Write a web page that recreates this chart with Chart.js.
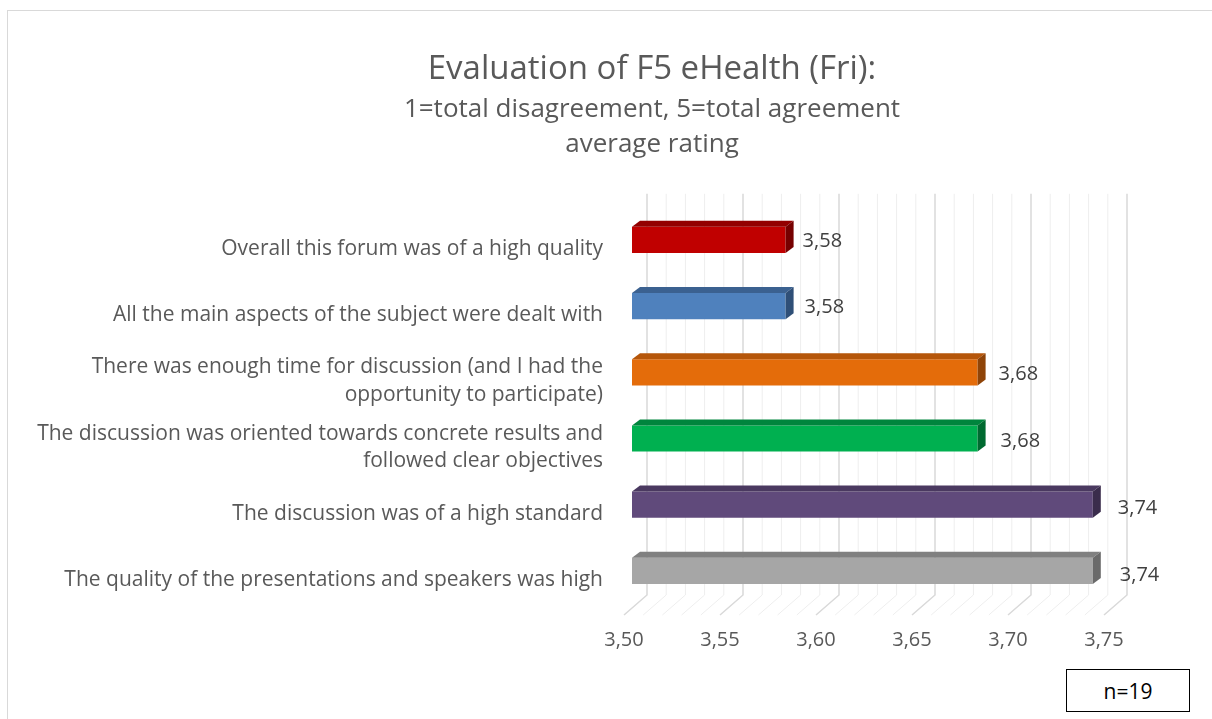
<!DOCTYPE html>
<html lang="en">
<head>
<meta charset="UTF-8" />
<title>Evaluation of F5 eHealth (Fri)</title>
<script src="https://cdn.jsdelivr.net/npm/chart.js"></script>
<style>
  html, body {
    margin: 0;
    padding: 0;
    overflow: hidden;
    background: #fff;
    width: 1212px;
    height: 719px;
  }
  #frame {
    position: absolute;
    left: 7px;
    top: 10px;
    width: 1300px;
    height: 760px;
    border-left: 1px solid #d9d9d9;
    border-top: 1px solid #d9d9d9;
  }
  #frame canvas {
    position: absolute;
    left: 0;
    top: 0;
  }
  #nbox {
    position: absolute;
    left: 1066px;
    top: 669px;
    width: 122px;
    height: 41px;
    border: 1.5px solid #000;
    font-family: 'Open Sans', sans-serif;
    font-size: 21px;
    line-height: 43px;
    text-align: center;
    color: #000;
    background: #fff;
  }
</style>
</head>
<body>

<div id="frame">
  <canvas id="chart" width="1300" height="760"></canvas>
</div>
<div id="nbox">n=19</div>

<script>
  // categories, top to bottom
  const categories = [
    'Overall this forum was of a high quality',
    'All the main aspects of the subject were dealt with',
    ['There was enough time for discussion (and I had the', 'opportunity to participate)'],
    ['The discussion was oriented towards concrete results and', 'followed clear objectives'],
    'The discussion was of a high standard',
    'The quality of the presentations and speakers was high'
  ];
  const ratings = [3.58, 3.58, 3.68, 3.68, 3.74, 3.74];

  // front / top / right face colours
  const frontColors = ['#c00000', '#4f81bd', '#e46c0a', '#00b050', '#604a7b', '#a6a6a6'];
  const topColors   = ['#930000', '#3b6190', '#b5560a', '#00853d', '#4a3960', '#808080'];
  const sideColors  = ['#760000', '#2f4f77', '#8f4408', '#006a30', '#3a2c4c', '#6a6a6a'];

  const axisMin = 3.50;
  const axisMax = 3.75;
  const fmt = v => v.toFixed(2).replace('.', ',');

  const textColor = '#595959';
  const fontFamily = "'Open Sans', sans-serif";

  // back wall grid + floor, drawn under the bars
  const wallGrid = {
    id: 'wallGrid',
    beforeDatasetsDraw(chart) {
      const { ctx, chartArea, scales } = chart;
      const xs = scales.x;
      const wallTop = chartArea.top - 13;
      const wallBottom = chartArea.bottom - 9;
      const floorFront = chartArea.bottom + 11;
      ctx.save();
      for (let k = 0; k <= 25; k++) {
        const x = xs.getPixelForValue(axisMin + k / 100);
        const major = k % 5 === 0;
        ctx.strokeStyle = major ? '#d9d9d9' : '#eeeeee';
        ctx.lineWidth = major ? 1.5 : 1;
        ctx.beginPath();
        ctx.moveTo(x + 15, wallTop);
        ctx.lineTo(x + 15, wallBottom);
        ctx.lineTo(x - 8, floorFront);
        ctx.stroke();
      }
      ctx.restore();
    }
  };

  // fake 3d: top and right faces of every bar, then the value label
  const bars3d = {
    id: 'bars3d',
    afterDatasetsDraw(chart) {
      const { ctx, chartArea } = chart;
      const meta = chart.getDatasetMeta(0);
      const dx = 8, dy = 6;
      const left = chartArea.left;
      ctx.save();
      meta.data.forEach((bar, i) => {
        const top = bar.y - bar.height / 2;
        const bottom = bar.y + bar.height / 2;
        ctx.fillStyle = topColors[i];
        ctx.beginPath();
        ctx.moveTo(left, top);
        ctx.lineTo(left + dx, top - dy);
        ctx.lineTo(bar.x + dx, top - dy);
        ctx.lineTo(bar.x, top);
        ctx.closePath();
        ctx.fill();

        ctx.fillStyle = sideColors[i];
        ctx.beginPath();
        ctx.moveTo(bar.x, top);
        ctx.lineTo(bar.x + dx, top - dy);
        ctx.lineTo(bar.x + dx, bottom - dy);
        ctx.lineTo(bar.x, bottom);
        ctx.closePath();
        ctx.fill();

        ctx.fillStyle = '#404040';
        ctx.font = '20px ' + fontFamily;
        ctx.textAlign = 'left';
        ctx.textBaseline = 'middle';
        ctx.fillText(fmt(ratings[i]), bar.x + 17 + 2 * i, bar.y + 1 + 0.6 * i);
      });
      ctx.restore();
    }
  };

  new Chart(document.getElementById('chart'), {
    type: 'bar',
    data: {
      labels: categories,
      datasets: [{
        data: ratings,
        backgroundColor: frontColors,
        borderWidth: 0,
        barPercentage: 0.55,
        categoryPercentage: 0.72
      }]
    },
    options: {
      indexAxis: 'y',
      responsive: false,
      animation: false,
      devicePixelRatio: 1,
      layout: { padding: { left: 0, right: 12, top: 0, bottom: 107 } },
      plugins: {
        legend: { display: false },
        tooltip: { enabled: false },
        title: {
          display: true,
          text: 'Evaluation of F5 eHealth (Fri):',
          color: textColor,
          font: { family: fontFamily, size: 33, weight: 'normal', lineHeight: 1.2 },
          padding: { top: 39, bottom: 0 }
        },
        subtitle: {
          display: true,
          text: ['1=total disagreement, 5=total agreement', 'average rating'],
          color: textColor,
          font: { family: fontFamily, size: 26, weight: 'normal', lineHeight: 1.35 },
          padding: { top: 2, bottom: 45 }
        }
      },
      scales: {
        x: {
          min: axisMin,
          max: axisMax,
          afterFit: s => { s.height = 60; },
          grid: { display: false, drawTicks: false },
          border: { display: false },
          ticks: {
            stepSize: 0.05,
            padding: 24,
            labelOffset: -8,
            color: textColor,
            font: { family: fontFamily, size: 20 },
            callback: v => fmt(v)
          }
        },
        y: {
          afterFit: s => { s.width = 624; },
          grid: { display: false, drawTicks: false },
          border: { display: false },
          ticks: {
            padding: 29,
            labelOffset: 9,
            color: textColor,
            font: { family: fontFamily, size: 21, lineHeight: 1.33 }
          }
        },
        // empty right-hand axis: room for the value labels, keeps the title centred
        yRight: {
          type: 'linear',
          axis: 'y',
          position: 'right',
          afterFit: s => { s.width = 184; },
          grid: { display: false, drawTicks: false },
          border: { display: false },
          ticks: { display: false }
        }
      }
    },
    plugins: [wallGrid, bars3d]
  });
</script>

</body>
</html>
